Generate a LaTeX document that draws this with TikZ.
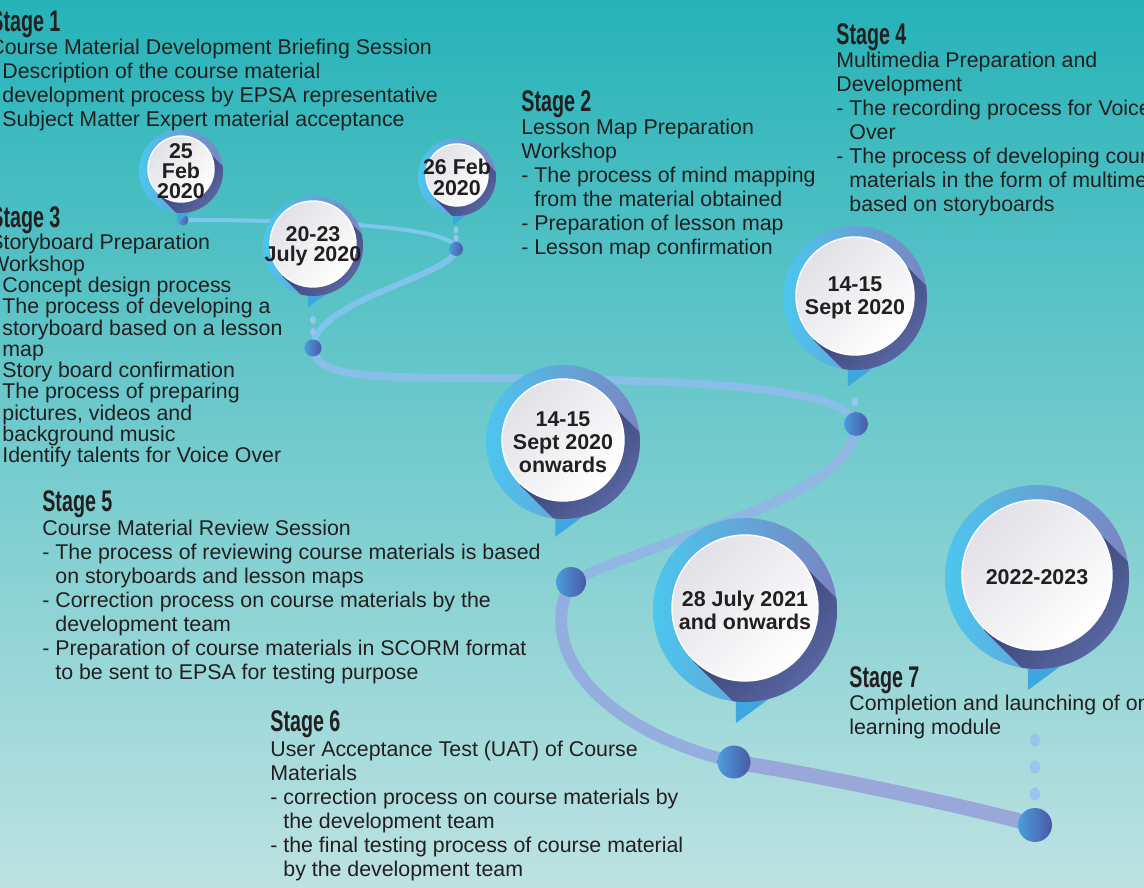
\documentclass[tikz,border=0pt]{standalone}
\usepackage{fontspec}
\setmainfont{Liberation Sans}
\usepackage{graphicx}
\usepackage{tikz}
\usetikzlibrary{calc}
\definecolor{bgtop}{HTML}{26B3B8}
\definecolor{bgmid}{HTML}{66C0C1}
\definecolor{bgbot}{HTML}{BEE2E2}
\definecolor{ink}{HTML}{231F20}
\definecolor{ringl}{HTML}{4CC6EE}
\definecolor{ringr}{HTML}{7B84C2}
\definecolor{tailc}{HTML}{3FA7E0}
\definecolor{shadowd}{HTML}{2E3868}
\definecolor{shadowl}{HTML}{7080C2}
\definecolor{discgrey}{HTML}{E1E1E7}
\definecolor{dotl}{HTML}{4A9EDC}
\definecolor{dotr}{HTML}{4B58A5}
\definecolor{pipc}{HTML}{98C4EE}
\definecolor{trailA}{HTML}{7CC8EE}
\definecolor{trailB}{HTML}{80C4EC}
\definecolor{trailC}{HTML}{88BEE8}
\definecolor{trailD}{HTML}{90B6E2}
\definecolor{trailE}{HTML}{94AFDF}
\definecolor{trailF}{HTML}{9AA7D9}
\tikzset{
  stagehead/.style={anchor=base west, inner sep=0pt, text=ink},
  stagetext/.style={anchor=base west, inner sep=0pt, text=ink, font=\fontsize{12.15}{13.6}\selectfont},
  datetext/.style={align=center, inner sep=0pt, text=ink},
  trail/.style={line cap=round},
}
\newcommand{\headtxt}[1]{\scalebox{0.66}[1]{\fontsize{17}{17}\selectfont\bfseries #1}}
\newcommand{\lines}[1]{\parbox[t]{12cm}{#1}}
\newcommand{\ind}{\hphantom{-\ }}
\begin{document}
\begin{tikzpicture}[x=0.02cm, y=-0.02cm]
\useasboundingbox (0,0) rectangle (1144,888);
\clip (0,0) rectangle (1144,888);
\shade[top color=bgtop, middle color=bgmid, bottom color=bgbot] (0,0) rectangle (1144,888);

\coordinate (d1) at (183,220);
\coordinate (d2) at (456,249);
\coordinate (d3) at (313,348);
\coordinate (d4) at (856,424);
\coordinate (d5) at (571,582);
\coordinate (d6) at (734,762);
\coordinate (d7) at (1035,825);

\draw[trail, line width=2.3pt, trailA] (d1) .. controls (300,220) and (456,225) .. (d2);
\draw[trail, line width=3.4pt, trailB] (d2) .. controls (456,275) and (313,300) .. (d3);
\draw[trail, line width=4.5pt, trailC] (d3) .. controls (315,375) and (360,377) .. (450,378) .. controls (680,379) and (845,385) .. (d4);
\draw[trail, line width=5.7pt, trailD] (d4) .. controls (856,500) and (650,540) .. (d5);
\draw[trail, line width=6.8pt, trailE] (d5) .. controls (535,650) and (600,730) .. (d6);
\draw[trail, line width=8.5pt, trailF] (d6) .. controls (820,775) and (960,805) .. (d7);

\foreach \x/\y/\rx/\ry in {456/230/2.5/3.5, 456/238/2.5/3.5, 313/320/3/4, 313/332/3/4, 855/402/3.5/4.5, 1035/740/5/6.5, 1035/767/5/6.5, 1035/794/5/6.5}
  \fill[pipc] (\x,\y) ellipse [x radius=\rx, y radius=\ry];

\foreach \p/\r in {d1/5.5, d2/7, d3/8.5, d4/12, d5/15, d6/16.5, d7/17}
  \shade[left color=dotl, right color=dotr] (\p) circle [radius=\r];

\foreach \cx/\cy/\ro/\ri/\ls/\txt [count=\n] in {
    181/171/42/33/11.4/{25\\Feb\\2020},
    457/177/39/31/11.9/{26 Feb\\2020},
    313/246/50/43/11.6/{20-23\\July 2020},
    855/298/72/59/13/{14-15\\Sept 2020},
    563/442/77/61/13.2/{14-15\\Sept 2020\\onwards},
    745/610/92/73/13/{28 July 2021\\and onwards},
    1037/577/92/75/13/{2022-2023}}{
  \fill[tailc] (\cx-0.1*\ro,\cy+0.9*\ro) -- (\cx-0.1*\ro,\cy+1.23*\ro) -- (\cx+0.28*\ro,\cy+0.95*\ro) -- cycle;
  \shade[left color=ringl, right color=ringr] (\cx,\cy) circle [radius=\ro];
  \begin{scope}
    \clip (\cx,\cy) circle [radius=\ro];
    \shade[top color=shadowd, bottom color=shadowl, shading angle=45]
      (\cx+0.707*\ri,\cy-0.707*\ri) -- (\cx+0.707*\ri+\ro,\cy-0.707*\ri+\ro)
      -- (\cx-0.707*\ri+\ro,\cy+0.707*\ri+\ro) -- (\cx-0.707*\ri,\cy+0.707*\ri) -- cycle;
  \end{scope}
  \shade[top color=discgrey, bottom color=white, shading angle=45] (\cx,\cy-2) circle [radius=\ri];
  \draw[white, line width=0.8pt] (\cx,\cy-2) circle [radius=\ri];
  \node[datetext, font=\fontsize{12.2}{\ls}\selectfont\bfseries] (date\n) at (\cx,\cy) {\txt};
}

\node[stagehead] (head1) at (-10,32) {\headtxt{Stage 1}};
\node[stagetext] (text1) at (-11,55) {\lines{Course Material Development Briefing Session\\
- Description of the course material\\
\ind development process by EPSA representative\\
- Subject Matter Expert material acceptance}};

\node[stagehead] (head2) at (521,112) {\headtxt{Stage 2}};
\node[stagetext] (text2) at (521,135) {\lines{Lesson Map Preparation\\
Workshop\\
- The process of mind mapping\\
\ind from the material obtained\\
- Preparation of lesson map\\
- Lesson map confirmation}};

\node[stagehead] (head3) at (-10,228) {\headtxt{Stage 3}};
\node[stagetext, font=\fontsize{12.15}{12.1}\selectfont] (text3) at (-11,250) {\lines{Storyboard Preparation\\
Workshop\\
- Concept design process\\
- The process of developing a\\
\ind storyboard based on a lesson\\
\ind map\\
- Story board confirmation\\
- The process of preparing\\
\ind pictures, videos and\\
\ind background music\\
- Identify talents for Voice Over}};

\node[stagehead] (head4) at (836,45) {\headtxt{Stage 4}};
\node[stagetext] (text4) at (836,68) {\lines{Multimedia Preparation and\\
Development\\
- The recording process for Voice\\
\ind Over\\
- The process of developing course\\
\ind materials in the form of multimedia\\
\ind based on storyboards}};

\node[stagehead] (head5) at (42,512) {\headtxt{Stage 5}};
\node[stagetext] (text5) at (42,536) {\lines{Course Material Review Session\\
- The process of reviewing course materials is based\\
\ind on storyboards and lesson maps\\
- Correction process on course materials by the\\
\ind development team\\
- Preparation of course materials in SCORM format\\
\ind to be sent to EPSA for testing purpose}};

\node[stagehead] (head6) at (270,732) {\headtxt{Stage 6}};
\node[stagetext] (text6) at (270,757) {\lines{User Acceptance Test (UAT) of Course\\
Materials\\
- correction process on course materials by\\
\ind the development team\\
- the final testing process of course material\\
\ind by the development team}};

\node[stagehead] (head7) at (849,688) {\headtxt{Stage 7}};
\node[stagetext] (text7) at (849,711) {\lines{Completion and launching of online\\
learning module}};
\end{tikzpicture}
\end{document}
